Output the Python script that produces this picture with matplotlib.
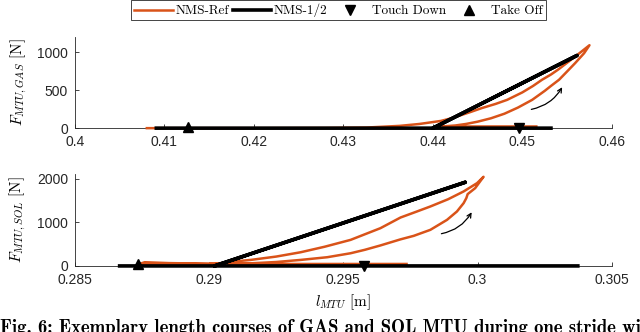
import matplotlib
matplotlib.use("Agg")
import matplotlib.pyplot as plt
from matplotlib.lines import Line2D
from matplotlib.patches import FancyArrowPatch

plt.rcParams['mathtext.fontset'] = 'cm'
plt.rcParams['axes.unicode_minus'] = False

ORANGE = '#D95319'

# ---------------- GAS data ----------------
gas_ref_l = [0.4079, 0.4200, 0.4280, 0.4326, 0.4363, 0.4385, 0.4400, 0.4409, 0.4420, 0.4430, 0.4442, 0.4455,
             0.4470, 0.4483, 0.4500, 0.4512, 0.4522, 0.4532, 0.4540, 0.4552, 0.4560, 0.4567, 0.4575,
             0.4569, 0.4559, 0.4550, 0.4541, 0.4532, 0.4525, 0.4511, 0.4495, 0.4480, 0.4465, 0.4450,
             0.4437, 0.4425, 0.4410, 0.4450, 0.4517]
gas_ref_f = [0, 0, 2, 8, 30, 55, 80, 95, 128, 165, 212, 265,
             318, 372, 470, 555, 636, 705, 770, 877, 950, 1015, 1090,
             985, 855, 745, 636, 555, 490, 372, 270, 190, 130, 85,
             55, 35, 22, 22, 22]
gas_half_l = [0.4089, 0.4400, 0.4561, 0.4400, 0.4534]
gas_half_f = [0, 0, 955, 0, 0]
gas_td = (0.4496, 0)
gas_to = (0.4126, 10)
gas_arrow = [(0.4507, 240), (0.4546, 570)]

# ---------------- SOL data ----------------
sol_ref_l = [0.2974, 0.2874, 0.2876, 0.2885, 0.2895, 0.2902,
             0.29080, 0.29155, 0.29250, 0.29341, 0.29430, 0.29527, 0.29638, 0.29713, 0.29770,
             0.29824, 0.29890, 0.29948, 0.29998, 0.30022,
             0.29991, 0.29963, 0.29958, 0.29948, 0.29923, 0.29886, 0.29824, 0.29762, 0.29713,
             0.29638, 0.29580, 0.29527, 0.29440, 0.29341, 0.29250, 0.29155, 0.2900]
sol_ref_f = [45, 45, 85, 65, 55, 45,
             95, 138, 215, 314, 440, 598, 866, 1111, 1240,
             1364, 1530, 1709, 1900, 2045,
             1785, 1648, 1556, 1441, 1249, 1057, 828, 690, 610,
             470, 370, 291, 200, 138, 90, 60, 45]
sol_half_l = [0.2866, 0.2902, 0.29954, 0.2902, 0.3038]
sol_half_f = [0, 0, 1920, 0, 0]
sol_td = (0.29576, 0)
sol_to = (0.28734, 50)
sol_arrow = [(0.29855, 728), (0.29983, 1287)]

fig = plt.figure(figsize=(6.4, 3.32), dpi=100)
ax1 = fig.add_axes([0.117, 0.614, 0.839, 0.275])
ax2 = fig.add_axes([0.117, 0.199, 0.839, 0.277])

def style(ax):
    for s in ['top', 'right']:
        ax.spines[s].set_visible(False)
    for s in ['left', 'bottom']:
        ax.spines[s].set_color('#262626')
        ax.spines[s].set_linewidth(0.6)
    ax.tick_params(direction='in', length=3, width=0.6, colors='#262626',
                   labelsize=10)
    ax.tick_params(axis='x', pad=5)
    ax.tick_params(axis='y', pad=5)
    for lab in ax.get_xticklabels() + ax.get_yticklabels():
        lab.set_fontfamily('Liberation Sans')

def draw(ax, rl, rf, hl, hf, td, to, arrow, xlim, ylim, xticks, yticks, xtl):
    ax.plot(rl, rf, color=ORANGE, lw=1.8, clip_on=False, zorder=3,
            solid_joinstyle='round', solid_capstyle='butt')
    ax.plot(hl, hf, color='black', lw=2.6, clip_on=False, zorder=4,
            solid_joinstyle='round', solid_capstyle='butt')
    ax.plot([td[0]], [td[1]], marker='v', color='black', ms=7, ls='none', clip_on=False, zorder=5)
    ax.plot([to[0]], [to[1]], marker='^', color='black', ms=7, ls='none', clip_on=False, zorder=5)
    ar = FancyArrowPatch(arrow[0], arrow[1], connectionstyle='arc3,rad=0.25',
                         arrowstyle='->,head_length=3,head_width=1.5', color='black', lw=0.9,
                         zorder=6)
    ax.add_patch(ar)
    ax.set_xlim(*xlim)
    ax.set_ylim(*ylim)
    ax.set_xticks(xticks)
    ax.set_xticklabels(xtl)
    ax.set_yticks(yticks)
    ax.set_yticklabels([str(v) for v in yticks])
    style(ax)

draw(ax1, gas_ref_l, gas_ref_f, gas_half_l, gas_half_f, gas_td, gas_to, gas_arrow,
     (0.4, 0.46), (0, 1200), [0.4, 0.41, 0.42, 0.43, 0.44, 0.45, 0.46], [0, 500, 1000],
     ['0.4', '0.41', '0.42', '0.43', '0.44', '0.45', '0.46'])
draw(ax2, sol_ref_l, sol_ref_f, sol_half_l, sol_half_f, sol_td, sol_to, sol_arrow,
     (0.285, 0.305), (0, 2110), [0.285, 0.29, 0.295, 0.3, 0.305], [0, 1000, 2000],
     ['0.285', '0.29', '0.295', '0.3', '0.305'])

ax1.set_ylabel(r'$F_{MTU,GAS}$ [N]', fontfamily='cmr10', fontsize=11, labelpad=6)
ax2.set_ylabel(r'$F_{MTU,SOL}$ [N]', fontfamily='cmr10', fontsize=11, labelpad=6)
ax2.set_xlabel(r'$l_{MTU}$ [m]', fontfamily='cmr10', fontsize=11, labelpad=4)

handles = [Line2D([], [], color=ORANGE, lw=1.8),
           Line2D([], [], color='black', lw=2.6),
           Line2D([], [], color='black', marker='v', ls='none', ms=7),
           Line2D([], [], color='black', marker='^', ls='none', ms=7)]
labels = ['NMS-Ref', 'NMS-1/2', 'Touch Down', 'Take Off']
leg = fig.legend(handles, labels, loc='upper center', bbox_to_anchor=(0.529, 1.003), ncol=4,
                 frameon=True, fancybox=False, edgecolor='#262626', framealpha=1,
                 prop={'family': 'cmr10', 'size': 9.5}, handlelength=2.9, handletextpad=0.2,
                 columnspacing=0.3, borderpad=0.25, borderaxespad=0.1)
leg.get_frame().set_linewidth(0.6)

fig.text(0.0, 0.038, 'Fig. 6: Exemplary length courses of GAS and SOL MTU during one stride with',
         fontfamily='cmb10', fontsize=13.5, va='top', ha='left')

fig.savefig('out.png', dpi=100)
